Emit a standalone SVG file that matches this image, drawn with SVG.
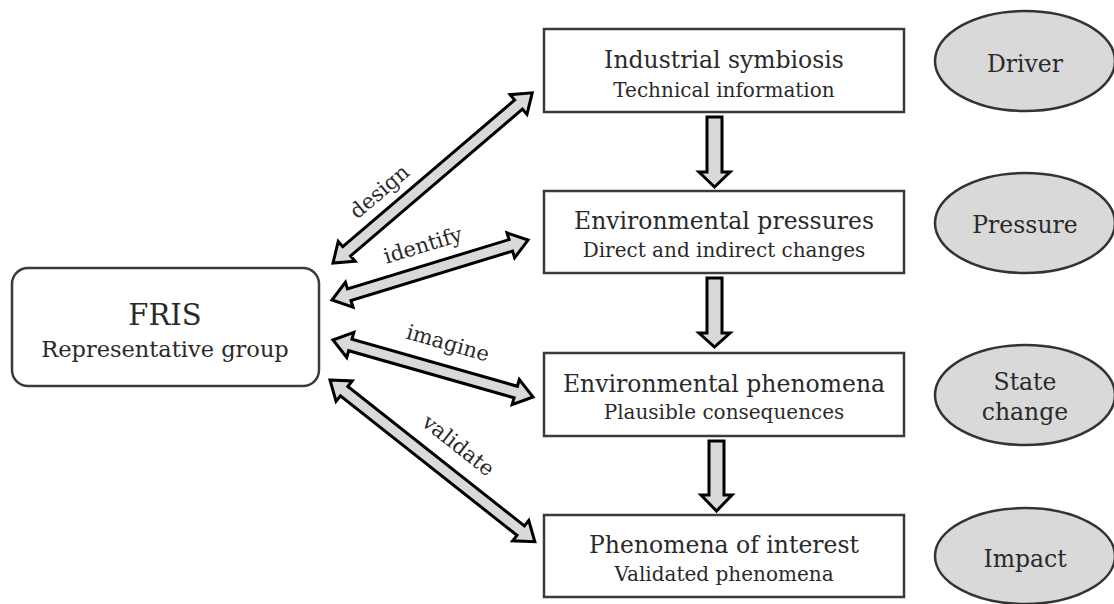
<svg xmlns="http://www.w3.org/2000/svg" width="1114" height="604" viewBox="0 0 1114 604">
<style>
text{font-family:"DejaVu Serif","Liberation Serif",serif;fill:#2a2a2a;text-anchor:middle}
.box{fill:#fff;stroke:#3a3a3a;stroke-width:2.5}
.ell{fill:#d9d9d9;stroke:#333;stroke-width:2.5}
.arr{fill:#d9d9d9;stroke:#000;stroke-width:3;stroke-linejoin:miter}
.t1{font-size:23.5px}
.t2{font-size:20px}
.lbl{font-size:21px}
</style>
<rect width="1114" height="604" fill="#fff"/>
<g id="connectors">
<path class="arr" d="M0,0 L18,-13 L18,-6 L244,-6 L244,-13 L262,0 L244,13 L244,6 L18,6 L18,13 Z" transform="translate(333,263) rotate(-40.5)"/>
<path class="arr" d="M0,0 L18,-13 L18,-6 L187,-6 L187,-13 L205,0 L187,13 L187,6 L18,6 L18,13 Z" transform="translate(332,300) rotate(-17)"/>
<path class="arr" d="M0,0 L18,-13 L18,-6 L190,-6 L190,-13 L208,0 L190,13 L190,6 L18,6 L18,13 Z" transform="translate(333,340) rotate(15.9)"/>
<path class="arr" d="M0,0 L18,-13 L18,-6 L243,-6 L243,-13 L261,0 L243,13 L243,6 L18,6 L18,13 Z" transform="translate(330,380) rotate(38.3)"/>
<path class="arr" d="M707,117 L722,117 L722,172 L730,172 L714.5,187 L699,172 L707,172 Z"/>
<path class="arr" d="M707,278 L722,278 L722,333 L730,333 L714.5,347 L699,333 L707,333 Z"/>
<path class="arr" d="M709,441 L724,441 L724,495 L732,495 L716.5,511 L701,495 L709,495 Z"/>
<text class="lbl" transform="translate(384,197) rotate(-40.5)">design</text>
<text class="lbl" transform="translate(425,252) rotate(-17)">identify</text>
<text class="lbl" transform="translate(446,350) rotate(16)">imagine</text>
<text class="lbl" transform="translate(454,451) rotate(38.3)">validate</text>
</g>
<g id="fris">
<rect class="box" x="12" y="268" width="307" height="118" rx="16"/>
<text x="165" y="325" style="font-size:29px">FRIS</text>
<text x="165" y="357" style="font-size:22.5px">Representative group</text>
</g>
<g id="box1">
<rect class="box" x="544" y="29" width="360" height="83"/>
<text class="t1" x="724" y="68">Industrial symbiosis</text>
<text class="t2" x="724" y="97">Technical information</text>
</g>
<g id="box2">
<rect class="box" x="544" y="191" width="360" height="82"/>
<text class="t1" x="724" y="229">Environmental pressures</text>
<text class="t2" x="724" y="257">Direct and indirect changes</text>
</g>
<g id="box3">
<rect class="box" x="544" y="353" width="360" height="83"/>
<text class="t1" x="724" y="392">Environmental phenomena</text>
<text class="t2" x="724" y="419">Plausible consequences</text>
</g>
<g id="box4">
<rect class="box" x="544" y="515" width="360" height="82"/>
<text class="t1" x="724" y="553">Phenomena of interest</text>
<text class="t2" x="724" y="581">Validated phenomena</text>
</g>
<g id="driver">
<ellipse class="ell" cx="1025" cy="61" rx="90" ry="50"/>
<text class="t1" x="1025" y="72">Driver</text>
</g>
<g id="pressure">
<ellipse class="ell" cx="1025" cy="223" rx="90" ry="50"/>
<text class="t1" x="1025" y="233">Pressure</text>
</g>
<g id="statechange">
<ellipse class="ell" cx="1025" cy="395" rx="90" ry="50"/>
<text class="t1" x="1025" y="390">State</text>
<text class="t1" x="1025" y="420">change</text>
</g>
<g id="impact">
<ellipse class="ell" cx="1025" cy="556" rx="90" ry="48"/>
<text class="t1" x="1025" y="567">Impact</text>
</g>
</svg>
